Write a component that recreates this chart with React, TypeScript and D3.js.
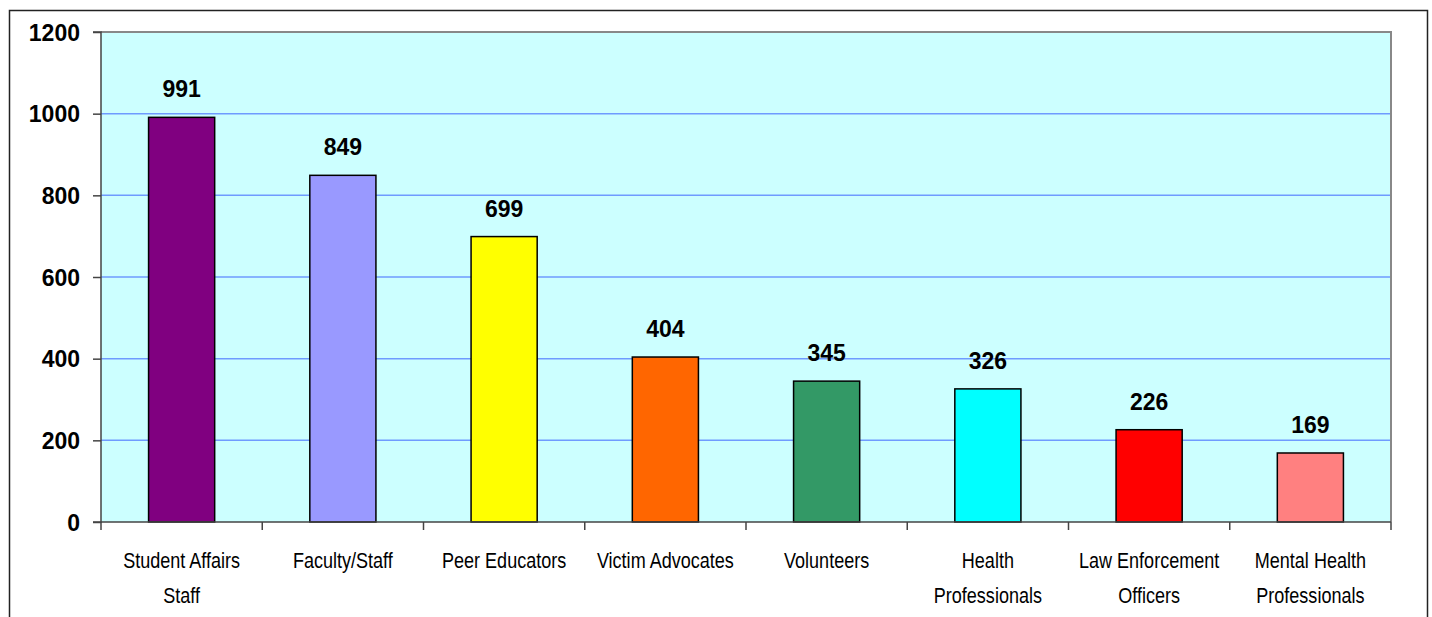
import { useEffect, useRef } from 'react';
import * as d3 from 'd3';

// chart data
const categories: string[][] = [
  ['Student Affairs', 'Staff'],
  ['Faculty/Staff'],
  ['Peer Educators'],
  ['Victim Advocates'],
  ['Volunteers'],
  ['Health', 'Professionals'],
  ['Law Enforcement', 'Officers'],
  ['Mental Health', 'Professionals'],
];
const values: number[] = [991, 849, 699, 404, 345, 326, 226, 169];
const barColors: string[] = ['#800080', '#9999FF', '#FFFF00', '#FF6600', '#339966', '#00FFFF', '#FF0000', '#FF8080'];
const yTicks: number[] = [0, 200, 400, 600, 800, 1000, 1200];

export default function App() {
  const svgRef = useRef<SVGSVGElement | null>(null);

  useEffect(() => {
    if (!svgRef.current) return;
    const svg = d3.select(svgRef.current);
    svg.selectAll('*').remove();

    const H = 617;
    const left = 101, right = 1391, top = 32, bottom = 522;
    const font = 'Liberation Sans, Arial, sans-serif';

    // outer frame (bottom runs off the picture)
    svg.append('path')
      .attr('d', `M9.5,${H + 2}V10.5H1427.5V${H + 2}`)
      .attr('fill', 'none').attr('stroke', '#222').attr('stroke-width', 1.5);

    const x = d3.scaleBand<number>()
      .domain(d3.range(values.length))
      .range([left, right])
      .paddingInner(0.59).paddingOuter(0.295);
    const y = d3.scaleLinear().domain([0, 1200]).range([bottom, top]);

    // plot area
    svg.append('rect')
      .attr('x', left).attr('y', top)
      .attr('width', right - left).attr('height', bottom - top)
      .attr('fill', '#CCFFFF');

    // gridlines
    svg.append('g').selectAll('line')
      .data(yTicks.filter(t => t > 0 && t < 1200))
      .join('line')
      .attr('x1', left).attr('x2', right)
      .attr('y1', d => y(d)).attr('y2', d => y(d))
      .attr('stroke', '#6F9BFF').attr('stroke-width', 1.5);

    // top + right border of plot area
    svg.append('path')
      .attr('d', `M${left},${top}H${right}V${bottom}`)
      .attr('fill', 'none').attr('stroke', '#888').attr('stroke-width', 2);

    // bars
    svg.append('g').selectAll('rect')
      .data(values)
      .join('rect')
      .attr('x', (_, i) => x(i)!)
      .attr('width', x.bandwidth())
      .attr('y', d => y(d))
      .attr('height', d => y(0) - y(d))
      .attr('fill', (_, i) => barColors[i])
      .attr('stroke', '#000').attr('stroke-width', 1.5);

    // value labels
    svg.append('g').selectAll('text')
      .data(values)
      .join('text')
      .attr('x', (_, i) => x(i)! + x.bandwidth() / 2)
      .attr('y', d => y(d) - 20)
      .attr('text-anchor', 'middle')
      .attr('font-family', font)
      .attr('font-weight', 'bold').attr('font-size', 23)
      .text(d => d);

    // y axis
    const yAxis = svg.append('g').attr('transform', `translate(${left},0)`)
      .call(d3.axisLeft(y).tickValues(yTicks).tickSize(8).tickPadding(13).tickFormat(d3.format('d')));
    yAxis.select('.domain').attr('stroke', '#444').attr('stroke-width', 1.5).attr('d', `M-8,${bottom}H0V${top}H-8`);
    yAxis.selectAll('.tick line').attr('stroke', '#444').attr('stroke-width', 1.5);
    yAxis.selectAll('.tick text')
      .attr('font-family', font)
      .attr('font-weight', 'bold').attr('font-size', 23).attr('fill', '#000')
      .attr('dy', '0.36em');

    // x axis line + boundary ticks
    const step = (right - left) / values.length;
    svg.append('line')
      .attr('x1', left).attr('x2', right).attr('y1', bottom).attr('y2', bottom)
      .attr('stroke', '#444').attr('stroke-width', 1.5);
    svg.append('g').selectAll('line')
      .data(d3.range(values.length + 1))
      .join('line')
      .attr('x1', i => left + i * step).attr('x2', i => left + i * step)
      .attr('y1', bottom).attr('y2', bottom + 8)
      .attr('stroke', '#444').attr('stroke-width', 1.5);

    // category labels (narrow look: horizontally squeezed)
    const cat = svg.append('g').selectAll('text')
      .data(categories)
      .join('text')
      .attr('transform', (_, i) => `translate(${x(i)! + x.bandwidth() / 2},568) scale(0.82,1)`)
      .attr('text-anchor', 'middle')
      .attr('font-family', font)
      .attr('font-size', 22).attr('fill', '#000');
    cat.each(function (lines) {
      const t = d3.select(this);
      lines.forEach((ln, j) => {
        t.append('tspan')
          .attr('x', 0)
          .attr('dy', j === 0 ? 0 : 35)
          .text(ln);
      });
    });
  }, []);

  return (
    <svg
      ref={svgRef}
      width={1432}
      height={617}
      style={{ position: 'absolute', left: 0, top: 0, background: '#fff' }}
    />
  );
}
